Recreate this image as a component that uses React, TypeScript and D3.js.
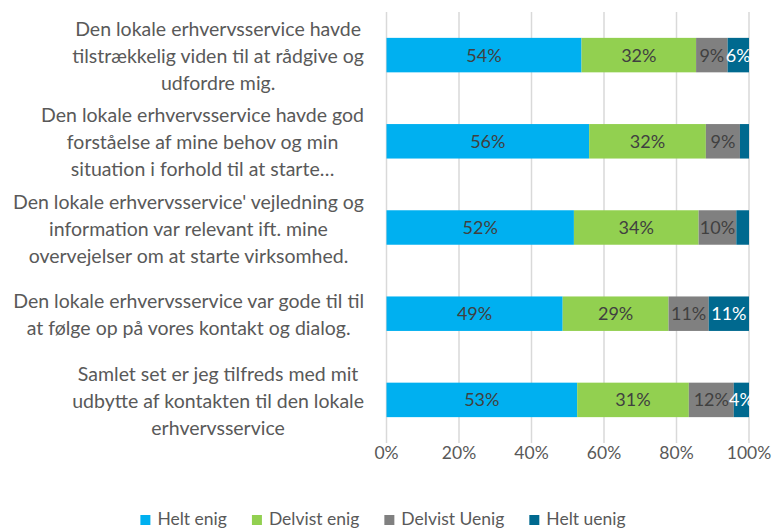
import { scaleBand, scaleLinear, select, stack } from "d3";
import { useEffect, useRef } from "react";

const categoryLines = [
  ["Den lokale erhvervsservice havde", "tilstrækkelig viden til at rådgive og", "udfordre mig."],
  ["Den lokale erhvervsservice havde god", "forståelse af mine behov og min", "situation i forhold til at starte…"],
  ["Den lokale erhvervsservice' vejledning og", "information var relevant ift. mine", "overvejelser om at starte virksomhed."],
  ["Den lokale erhvervsservice var gode til til", "at følge op på vores kontakt og dialog."],
  ["Samlet set er jeg tilfreds med mit", "udbytte af kontakten til den lokale", "erhvervsservice"],
];
const seriesNames = ["Helt enig", "Delvist enig", "Delvist Uenig", "Helt uenig"];
const heltEnig = [53.8, 55.9, 51.7, 48.6, 52.6];
const delvistEnig = [31.6, 32.2, 34.4, 29.2, 30.8];
const delvistUenig = [8.7, 9.4, 10.4, 11.1, 12.4];
const heltUenig = [5.9, 2.5, 3.5, 11.1, 4.2];
const xTicks = [0, 20, 40, 60, 80, 100];

const colors = ["#00B0F0", "#92D050", "#808080", "#00698F"];
const labelColors = ["#404040", "#404040", "#404040", "#FFFFFF"];
const FONT = "Lato, 'Open Sans', sans-serif";

function App() {
  const svgRef = useRef<SVGSVGElement>(null);

  useEffect(() => {
    document.body.style.margin = "0";
    const svg = select(svgRef.current);
    svg.selectAll("*").remove();

    const width = 774;
    const height = 529;
    svg.attr("width", width).attr("height", height).style("font-family", FONT);

    const rows = categoryLines.map((_, i) => ({
      idx: i,
      [seriesNames[0]]: heltEnig[i],
      [seriesNames[1]]: delvistEnig[i],
      [seriesNames[2]]: delvistUenig[i],
      [seriesNames[3]]: heltUenig[i],
    }));

    const xScale = scaleLinear().domain([0, 100]).range([386.5, 749]);
    const yScale = scaleBand<number>()
      .domain(rows.map((r) => r.idx))
      .range([12, 443])
      .paddingInner(0.6)
      .paddingOuter(0.3);

    // gridlines
    svg
      .append("g")
      .selectAll("line")
      .data(xTicks)
      .join("line")
      .attr("x1", (d) => xScale(d))
      .attr("x2", (d) => xScale(d))
      .attr("y1", 12)
      .attr("y2", 443)
      .attr("stroke", "#D9D9D9")
      .attr("stroke-width", 1.5);

    // tick labels
    svg
      .append("g")
      .selectAll("text")
      .data(xTicks)
      .join("text")
      .attr("x", (d) => xScale(d))
      .attr("y", 459)
      .attr("text-anchor", "middle")
      .attr("font-size", 17.5)
      .attr("fill", "#595959")
      .text((d) => `${d}%`);

    const series = stack<any>().keys(seriesNames)(rows);

    const groups = svg
      .append("g")
      .selectAll("g")
      .data(series)
      .join("g")
      .attr("fill", (_, i) => colors[i]);

    groups
      .selectAll("rect")
      .data((s) => s)
      .join("rect")
      .attr("x", (d) => xScale(d[0]))
      .attr("width", (d) => xScale(d[1]) - xScale(d[0]))
      .attr("y", (d: any) => yScale(d.data.idx)!)
      .attr("height", yScale.bandwidth());

    // data labels (the tiny ones were left out in the original)
    series.forEach((s, si) => {
      svg
        .append("g")
        .selectAll("text")
        .data(s.filter((d) => d[1] - d[0] >= 4))
        .join("text")
        .attr("x", (d) => (xScale(d[0]) + xScale(d[1])) / 2)
        .attr("y", (d: any) => yScale(d.data.idx)! + yScale.bandwidth() / 2)
        .attr("dy", "0.36em")
        .attr("text-anchor", "middle")
        .attr("font-size", 18)
        .attr("fill", labelColors[si])
        .text((d) => `${Math.round(d[1] - d[0])}%`);
    });

    // category labels, wrapped block right-aligned, lines centred
    const catG = svg.append("g");
    categoryLines.forEach((lines, i) => {
      const g = catG.append("g");
      const texts = lines.map((line) =>
        g
          .append("text")
          .attr("font-size", 19.5)
          .attr("fill", "#595959")
          .attr("text-anchor", "middle")
          .text(line)
      );
      const maxW = Math.max(...texts.map((t) => (t.node() as SVGTextElement).getComputedTextLength()));
      const cx = 364 - maxW / 2;
      const cy = yScale(i)! + yScale.bandwidth() / 2;
      texts.forEach((t, li) => {
        t.attr("x", cx).attr("y", cy + (li - (lines.length - 1) / 2) * 27 + 8);
      });
    });

    // legend
    const legend = svg.append("g");
    const items = seriesNames.map((name, i) => {
      const item = legend.append("g");
      item.append("rect").attr("width", 10).attr("height", 10).attr("y", -10).attr("fill", colors[i]);
      const t = item
        .append("text")
        .attr("x", 17)
        .attr("font-size", 17.5)
        .attr("fill", "#595959")
        .text(name);
      return { item, w: 17 + (t.node() as SVGTextElement).getComputedTextLength() };
    });
    const gap = 25;
    const total = items.reduce((a, b) => a + b.w, 0) + gap * (items.length - 1);
    let lx = 383 - total / 2;
    items.forEach(({ item, w }) => {
      item.attr("transform", `translate(${lx},525)`);
      lx += w + gap;
    });
  }, []);

  return <svg ref={svgRef} style={{ display: "block" }}></svg>;
}

export default App;
